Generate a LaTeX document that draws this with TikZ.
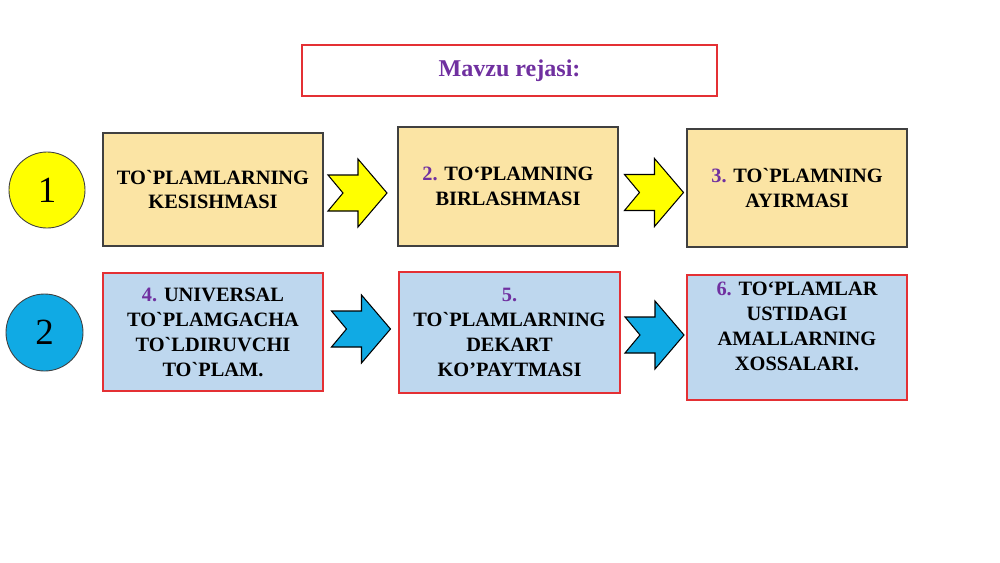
\documentclass[tikz,border=0pt]{standalone}
\usepackage{fontspec}
\setmainfont{Liberation Serif}[Ligatures=TeXOff]
\usepackage{tikz}
\usetikzlibrary{positioning,calc}
\definecolor{colorwhite}    {RGB}{255,255,255}
\definecolor{colorblack}    {RGB}{  0,  0,  0}
\definecolor{colorframe}    {RGB}{ 64, 64, 64}
\definecolor{colorred}      {RGB}{228, 48, 52}
\definecolor{colorpurple}   {RGB}{112, 48,160}
\definecolor{coloryellow}   {RGB}{255,255,  0}
\definecolor{colorblue}     {RGB}{ 16,170,228}
\definecolor{colorsand}     {RGB}{251,228,164}
\definecolor{colorsky}      {RGB}{190,215,238}

\newcommand{\num}[1]{{\color{colorpurple}#1}}

\begin{document}
\begin{tikzpicture}[
    x=0.2mm, y=-0.2mm,
    title/.style={draw=colorred,line width=0.7pt,fill=colorwhite,minimum width=83mm,minimum height=10.2mm,
        text=colorpurple,font={\fontsize{13.7}{16}\selectfont\bfseries}},
    topic/.style={line width=0.6pt,minimum width=44mm,align=center,inner sep=0pt,
        font={\fontsize{11.6}{14.2}\selectfont\bfseries}},
    sandbox/.style={topic,draw=colorframe,fill=colorsand},
    skybox/.style={topic,draw=colorred,fill=colorsky},
    badge/.style={circle,draw=colorframe,line width=0.5pt,inner sep=0pt,
        font={\fontsize{21}{24}\selectfont}},
    blockarrow/.pic={
        \draw[pic actions,line width=0.6pt,line join=miter]
            (0,-18) -- (30,-18) -- (30,-34) -- (59,0) -- (30,34) -- (30,18)
            -- (0,18) -- (15,0) -- cycle;
    },
]

    \useasboundingbox (0,0) rectangle (1000,562);

    % Title
    \node[title] at (509.5,70.5) (plan) {Mavzu rejasi:};

    % Row 1
    \node[badge,fill=coloryellow,minimum size=15.2mm] at (47,190) (one) {1};
    \node[sandbox,minimum height=22.6mm] at (213,189.5) (kesish)
        {TO`PLAMLARNING\\KESISHMASI};
    \node[sandbox,minimum height=23.8mm] at (508,186.5) (birlash)
        {\num{2.} TO‘PLAMNING\\BIRLASHMASI};
    \node[sandbox,minimum height=23.6mm] at (797,188) (ayirma)
        {\num{3.} TO`PLAMNING\\AYIRMASI};

    % Row 2
    \node[badge,fill=colorblue,minimum size=15.4mm] at (44.5,332.5) (two) {2};
    \node[skybox,minimum height=23.6mm] at (213,332) (universal)
        {\num{4.} UNIVERSAL\\TO`PLAMGACHA\\TO`LDIRUVCHI\\TO`PLAM.};
    \node[skybox,minimum width=44.2mm,minimum height=24.2mm] at (509.5,332.5) (dekart)
        {\num{5.}\\TO`PLAMLARNING\\DEKART\\KO’PAYTMASI};
    \node[skybox,minimum height=25mm] at (797,337.5) (xossa) {};
    \node[topic,minimum width=0pt] at ($(xossa.center)+(0,-11)$)
        {\num{6.} TO‘PLAMLAR\\USTIDAGI\\AMALLARNING\\XOSSALARI.};

    % Arrows
    \pic[fill=coloryellow,draw=colorblack] at (328,193) {blockarrow};
    \pic[fill=coloryellow,draw=colorblack] at (624.5,192.5) {blockarrow};
    \pic[fill=colorblue,draw=colorblack] at (331.5,329) {blockarrow};
    \pic[fill=colorblue,draw=colorblack] at (625,335) {blockarrow};

\end{tikzpicture}
\end{document}
